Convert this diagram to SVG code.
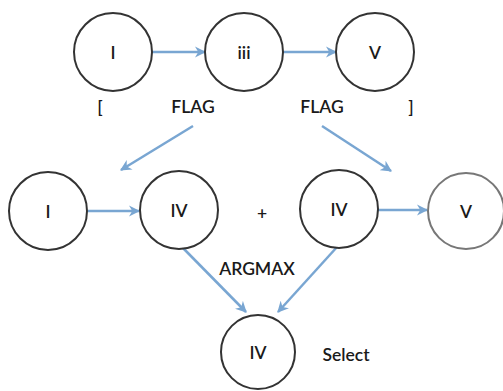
<svg xmlns="http://www.w3.org/2000/svg" width="503" height="391" viewBox="0 0 503 391">
<defs>
<marker id="ah" viewBox="0 0 10 10" refX="9" refY="5" markerWidth="4.5" markerHeight="4.5" orient="auto" markerUnits="strokeWidth">
<path d="M0,0 L10,5 L0,10 L3,5 Z" fill="#79a6d2"/>
</marker>
<style>
.n{fill:#fff;stroke:#333;stroke-width:2}
.g{fill:#fff;stroke:#777;stroke-width:2}
.t{font-family:Lato,"Liberation Sans",Arial,sans-serif;font-size:17.5px;font-weight:600;fill:#1a1a1a;text-anchor:middle;dominant-baseline:central}
.c{stroke:#79a6d2;stroke-width:2.5;fill:none;marker-end:url(#ah)}
</style>
</defs>
<rect width="503" height="391" fill="#fff"/>
<g id="connectors">
<line class="c" x1="152" y1="52" x2="205" y2="52"/>
<line class="c" x1="283" y1="52" x2="336" y2="52"/>
<line class="c" x1="193" y1="126" x2="121" y2="170"/>
<line class="c" x1="322" y1="126" x2="391" y2="171"/>
<line class="c" x1="88" y1="211" x2="139" y2="211"/>
<line class="c" x1="378" y1="210" x2="427" y2="210"/>
<line class="c" x1="183" y1="248" x2="246" y2="312"/>
<line class="c" x1="337" y1="247" x2="278" y2="312"/>
</g>
<g id="n1"><circle class="n" cx="113" cy="52" r="39"/><text class="t" x="113" y="52">I</text></g>
<g id="n2"><circle class="n" cx="244" cy="52" r="39"/><text class="t" x="244" y="52">iii</text></g>
<g id="n3"><circle class="n" cx="375" cy="52" r="39"/><text class="t" x="375" y="52">V</text></g>
<g id="labels1">
<text class="t" x="100" y="106">[</text>
<text class="t" x="193" y="106">FLAG</text>
<text class="t" x="322" y="106">FLAG</text>
<text class="t" x="411" y="106">]</text>
</g>
<g id="n4"><circle class="n" cx="48" cy="211" r="39"/><text class="t" x="48" y="211">I</text></g>
<g id="n5"><circle class="n" cx="179" cy="210" r="39"/><text class="t" x="179" y="210">IV</text></g>
<text class="t" x="262" y="212">+</text>
<g id="n6"><circle class="n" cx="339" cy="209" r="39"/><text class="t" x="339" y="209">IV</text></g>
<g id="n7"><circle class="g" cx="466" cy="211" r="38"/><text class="t" x="466" y="211">V</text></g>
<text class="t" x="257" y="268">ARGMAX</text>
<g id="n8"><circle class="n" cx="258" cy="352" r="37"/><text class="t" x="258" y="352">IV</text></g>
<text class="t" x="346" y="354">Select</text>
</svg>
